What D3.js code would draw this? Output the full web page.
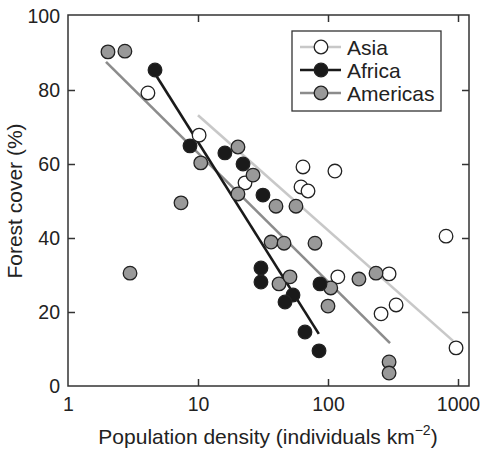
<!DOCTYPE html>
<html>
<head>
<meta charset="utf-8">
<script src="https://cdn.jsdelivr.net/npm/d3@7"></script>
<style>
  html, body { margin: 0; padding: 0; background: #fff; }
  svg { display: block; font-family: "Liberation Sans", Arial, sans-serif; }
</style>
</head>
<body>
<svg id="chart" width="483" height="449"></svg>
<script>
// ---- data ----
const asiaX = [4.12, 10.2, 23.0, 64.2, 113, 62.0, 70.2, 119, 295, 334, 256, 809, 966];
const asiaY = [79.2, 67.8, 54.9, 59.2, 58.1, 53.8, 52.7, 29.5, 30.3, 21.9, 19.5, 40.5, 10.3];

const africaX = [4.67, 8.68, 16.1, 22.2, 31.6, 30.5, 30.5, 53.8, 46.7, 86.8, 66.5, 85.3];
const africaY = [85.4, 64.9, 63.0, 60.0, 51.6, 31.9, 28.1, 24.6, 22.7, 27.6, 14.6, 9.5];

const americasX = [2.03, 2.74, 7.4, 3.0, 10.5, 20.3, 26.5, 20.3, 39.8, 56.7, 36.5, 45.9, 79.4, 42.0, 51.0, 105, 100, 173, 234, 295, 295];
const americasY = [90.3, 90.5, 49.5, 30.5, 60.3, 64.6, 57.0, 51.9, 48.6, 48.6, 38.9, 38.6, 38.6, 27.6, 29.5, 26.5, 21.6, 28.9, 30.5, 6.5, 3.5];

// regression line endpoints [x1, x2], [y1, y2]
const asiaFitX = [10, 916];
const asiaFitY = [73.2, 12.2];
const africaFitX = [4.75, 85];
const africaFitY = [84.0, 14.1];
const americasFitX = [1.96, 300];
const americasFitY = [87.6, 11.6];

const xTicks = [1, 10, 100, 1000];
const yTicks = [0, 20, 40, 60, 80, 100];
const seriesNames = ["Asia", "Africa", "Americas"];

(function () {
const styles = {
  Asia: { fill: "#ffffff", line: "#c8c8c8" },
  Africa: { fill: "#1a1a1a", line: "#1a1a1a" },
  Americas: { fill: "#999999", line: "#8c8c8c" }
};

const svg = d3.select("#chart");
const pL = 68, pR = 469, pT = 15, pB = 386;

const x = d3.scaleLog().domain([1, Math.pow(10, 401 / 130)]).range([pL, pR]);
const y = d3.scaleLinear().domain([0, 100]).range([pB, pT + 1]);

const frameColor = "#333";

svg.append("rect")
  .attr("x", pL).attr("y", pT)
  .attr("width", pR - pL).attr("height", pB - pT)
  .attr("fill", "none").attr("stroke", frameColor).attr("stroke-width", 1.5);

const tickLen = 7;
const gx = svg.append("g").attr("transform", `translate(0,${pB})`)
  .call(d3.axisBottom(x).tickValues(xTicks).tickFormat(d3.format("d")).tickSize(-tickLen).tickPadding(tickLen + 4));
const gxt = svg.append("g").attr("transform", `translate(0,${pT})`)
  .call(d3.axisTop(x).tickValues(xTicks).tickFormat("").tickSize(-tickLen));
const gy = svg.append("g").attr("transform", `translate(${pL},0)`)
  .call(d3.axisLeft(y).tickValues(yTicks).tickFormat(d3.format("d")).tickSize(-tickLen).tickPadding(tickLen + 1));
const gyr = svg.append("g").attr("transform", `translate(${pR},0)`)
  .call(d3.axisRight(y).tickValues(yTicks).tickFormat("").tickSize(-tickLen));

[gx, gxt, gy, gyr].forEach(g => {
  g.select(".domain").remove();
  g.selectAll(".tick line").attr("stroke", frameColor).attr("stroke-width", 1.5);
  g.selectAll(".tick text").attr("fill", "#222").style("font-size", "19.5px")
    .style("font-family", '"Liberation Sans", Arial, sans-serif');
});
gx.selectAll(".tick").filter(d => d === 1).select("line").remove();
gxt.selectAll(".tick").filter(d => d === 1).remove();
gy.selectAll(".tick").filter(d => d === 0 || d === 100).select("line").remove();
gyr.selectAll(".tick").filter(d => d === 0 || d === 100).remove();
gx.selectAll(".tick text").attr("dy", "0.71em");

const xt = svg.append("text")
  .attr("x", 268).attr("y", 444)
  .attr("text-anchor", "middle").attr("fill", "#222")
  .style("font-size", "21px");
xt.append("tspan").text("Population density (individuals km");
xt.append("tspan").attr("dy", -9).style("font-size", "14px").text("\u22122");
xt.append("tspan").attr("dy", 9).text(")");

svg.append("text")
  .attr("transform", "translate(22,201) rotate(-90)")
  .attr("text-anchor", "middle").attr("fill", "#222")
  .style("font-size", "21px")
  .text("Forest cover (%)");

const fits = [
  { name: "Asia", xs: asiaFitX, ys: asiaFitY },
  { name: "Americas", xs: americasFitX, ys: americasFitY },
  { name: "Africa", xs: africaFitX, ys: africaFitY }
];
const lineGen = d3.line().x(d => x(d[0])).y(d => y(d[1]));
fits.forEach(f => {
  svg.append("path")
    .datum(d3.zip(f.xs, f.ys))
    .attr("d", lineGen)
    .attr("fill", "none")
    .attr("stroke", styles[f.name].line)
    .attr("stroke-width", 2.6);
});

const series = [
  { name: "Asia", xs: asiaX, ys: asiaY },
  { name: "Americas", xs: americasX, ys: americasY },
  { name: "Africa", xs: africaX, ys: africaY }
];
const R = 6.8;
series.forEach(s => {
  svg.append("g").selectAll("circle")
    .data(d3.zip(s.xs, s.ys))
    .join("circle")
    .attr("cx", d => x(d[0]))
    .attr("cy", d => y(d[1]))
    .attr("r", R)
    .attr("fill", styles[s.name].fill)
    .attr("stroke", "#222")
    .attr("stroke-width", 1.3);
});

const lg = svg.append("g");
lg.append("rect")
  .attr("x", 292).attr("y", 31).attr("width", 149).attr("height", 80)
  .attr("fill", "#fff").attr("stroke", frameColor).attr("stroke-width", 1.3);
seriesNames.forEach((name, i) => {
  const cy = 47 + i * 23;
  lg.append("line")
    .attr("x1", 300).attr("x2", 341).attr("y1", cy).attr("y2", cy)
    .attr("stroke", styles[name].line).attr("stroke-width", 2.6);
  lg.append("circle")
    .attr("cx", 321).attr("cy", cy).attr("r", R)
    .attr("fill", styles[name].fill).attr("stroke", "#222").attr("stroke-width", 1.3);
  lg.append("text")
    .attr("x", 347).attr("y", cy).attr("dy", "0.36em")
    .attr("fill", "#222").style("font-size", "21px")
    .text(name);
});
})();
</script>
</body>
</html>
